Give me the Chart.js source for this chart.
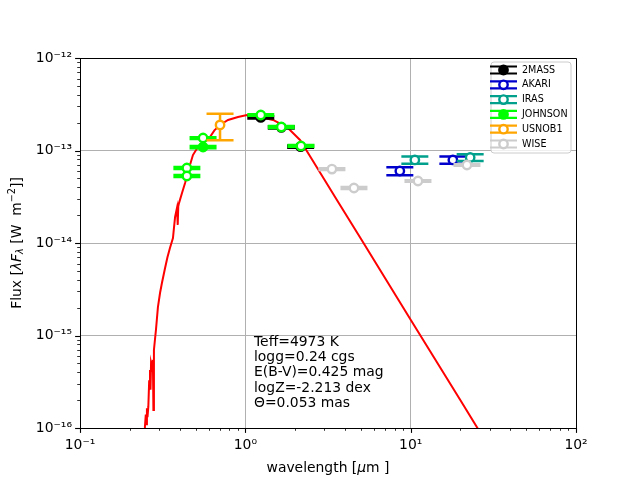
<!DOCTYPE html>
<html><head><meta charset="utf-8">
<script src="https://cdn.jsdelivr.net/npm/chart.js@4/dist/chart.umd.min.js"></script>
<style>html,body{margin:0;padding:0;background:#fff}</style>
</head><body>
<canvas id="c" width="640" height="480" style="width:640px;height:480px;display:block"></canvas>
<script>
// ---------- data ----------
const xMajorTicks = [0.1, 1, 10, 100];
const xTickLabels = ['10⁻¹', '10⁰', '10¹', '10²'];
const yMajorTicks = [1e-16, 1e-15, 1e-14, 1e-13, 1e-12];
const yTickLabels = ['10⁻¹⁶', '10⁻¹⁵', '10⁻¹⁴', '10⁻¹³', '10⁻¹²'];

const modelWave = [0.244,0.247,0.250,0.252,0.254,0.256,0.259,0.262,0.265,0.267,0.269,0.272,0.276,0.278,0.280,0.284,0.288,0.296,0.305,0.313,0.327,0.338,0.350,0.365,0.370,0.376,0.386,0.390,0.393,0.397,0.414,0.432,0.455,0.482,0.510,0.532,0.560,0.611,0.650,0.703,0.786,0.903,1.023,1.227,1.470,1.786,2.141,2.5,3.58,5.0,10.0,20.0,30.0];
const modelFlux = [0.9e-16,1.03e-16,1.4e-16,1.1e-16,1.64e-16,1.31e-16,1.7e-16,3.2e-16,4.24e-16,2.6e-16,5.05e-16,4.6e-16,5.44e-16,1.57e-16,6.97e-16,9.0e-16,1.15e-15,2.03e-15,2.9e-15,3.7e-15,5.37e-15,7.0e-15,8.83e-15,1.13e-14,1.45e-14,1.91e-14,2.39e-14,1.57e-14,2.5e-14,2.7e-14,3.47e-14,4.46e-14,6.3e-14,8.93e-14,1.05e-13,1.15e-13,1.25e-13,1.40e-13,1.65e-13,1.89e-13,2.14e-13,2.30e-13,2.42e-13,2.30e-13,2.14e-13,1.79e-13,1.30e-13,8.3e-14,2.92e-14,1.11e-14,1.48e-15,2.0e-16,6.1e-17];

const twomassWave = [1.24, 1.65, 2.16];
const twomassFlux = [2.28e-13, 1.78e-13, 1.10e-13];
const twomassErr  = [0.06e-13, 0.05e-13, 0.03e-13];

const akariWave = [8.6, 18.0];
const akariFlux = [6.0e-14, 7.9e-14];
const akariErr  = [0.6e-14, 0.7e-14];

const irasWave = [10.6, 22.9];
const irasFlux = [7.9e-14, 8.4e-14];
const irasErr  = [0.7e-14, 0.7e-14];

const johnsonWave = [0.443, 0.443, 0.555, 0.555, 1.24, 1.65, 2.17];
const johnsonFlux = [6.47e-14, 5.3e-14, 1.365e-13, 1.09e-13, 2.42e-13, 1.795e-13, 1.12e-13];
const johnsonErr  = [1.5e-15, 1.2e-15, 3e-15, 3e-15, 5e-15, 4e-15, 2.5e-15];
const johnsonFilled = [false, false, false, true, false, false, false];

const usnobWave = [0.703];
const usnobFlux = [1.89e-13];
const usnobErr  = [0.6e-13];

const wiseWave = [3.34, 4.54, 11.07, 21.9];
const wiseFlux = [6.3e-14, 3.93e-14, 4.68e-14, 6.97e-14];
const wiseErr  = [1.3e-15, 0.9e-15, 1.0e-15, 1.5e-15];

const annotationLines = ['Teff=4973 K', 'logg=0.24 cgs', 'E(B-V)=0.425 mag', 'logZ=-2.213 dex', 'Θ=0.053 mas'];
const legendNames = ['2MASS', 'AKARI', 'IRAS', 'JOHNSON', 'USNOB1', 'WISE'];

// ---------- helpers ----------
const FONT = "'DejaVu Sans', sans-serif";
function pts(w, f) { return w.map((v, i) => ({x: v, y: f[i]})); }
function buildLogTicks(majors) {
  const t = [];
  for (let i = 0; i < majors.length; i++) {
    t.push({value: majors[i], major: true});
    if (i < majors.length - 1) for (let k = 2; k <= 9; k++) t.push({value: majors[i] * k, major: false});
  }
  return t;
}
function labelFor(majors, labels, value) {
  const j = majors.findIndex(m => Math.abs(Math.log10(m) - Math.log10(value)) < 1e-6);
  return j >= 0 ? labels[j] : '';
}
const COL = {tm:'#000000', ak:'#0000cc', ir:'#00a08c', jo:'#00ff00', us:'#ffa500', wi:'#cccccc'};

function sdata(label, w, f, e, color, filled, order) {
  return {
    type: 'scatter', label, data: pts(w, f), errs: e, errColor: color, order,
    pointRadius: 4.2, pointHoverRadius: 4.2, pointBorderWidth: 2.4,
    pointBorderColor: color,
    pointBackgroundColor: filled.map(b => b ? color : '#ffffff'),
    showLine: false
  };
}

const CAP = 13.5;
function drawRich(ctx, segs, x, y) {
  let total = 0;
  segs.forEach(s => { ctx.font = (s.it ? 'italic ' : '') + s.sz + 'px ' + FONT; s.w = ctx.measureText(s.t).width; total += s.w; });
  let cx = x - total / 2;
  ctx.textAlign = 'left'; ctx.textBaseline = 'alphabetic'; ctx.fillStyle = '#000';
  segs.forEach(s => { ctx.font = (s.it ? 'italic ' : '') + s.sz + 'px ' + FONT; ctx.fillText(s.t, cx, y + (s.dy || 0)); cx += s.w; });
}

const sedPlugin = {
  id: 'sed',
  beforeDatasetDraw(chart, args) {
    const ds = chart.data.datasets[args.index];
    if (!ds.errs) return;
    const ctx = chart.ctx, xs = chart.scales.x, ys = chart.scales.y;
    ctx.save();
    ctx.strokeStyle = ds.errColor; ctx.lineWidth = 2.5; ctx.lineCap = 'butt';
    ds.data.forEach((p, i) => {
      const px = xs.getPixelForValue(p.x);
      const hi = ys.getPixelForValue(p.y + ds.errs[i]);
      const lo = ys.getPixelForValue(p.y - ds.errs[i]);
      ctx.beginPath();
      ctx.moveTo(px, hi); ctx.lineTo(px, lo);
      ctx.moveTo(px - CAP, hi); ctx.lineTo(px + CAP, hi);
      ctx.moveTo(px - CAP, lo); ctx.lineTo(px + CAP, lo);
      ctx.stroke();
    });
    ctx.restore();
  },
  afterDraw(chart) {
    const ctx = chart.ctx, a = chart.chartArea, xs = chart.scales.x, ys = chart.scales.y;
    ctx.save();
    // top & right spines
    ctx.strokeStyle = '#000'; ctx.lineWidth = 1;
    ctx.beginPath();
    ctx.moveTo(Math.round(a.left) + 0.5, Math.round(a.top) + 0.5);
    ctx.lineTo(Math.round(a.right) + 0.5, Math.round(a.top) + 0.5);
    ctx.lineTo(Math.round(a.right) + 0.5, Math.round(a.bottom) + 0.5);
    ctx.stroke();
    // tick marks
    xs.ticks.forEach(t => {
      const px = Math.round(xs.getPixelForValue(t.value)) + 0.5;
      ctx.lineWidth = t.major ? 1.1 : 0.8;
      ctx.beginPath(); ctx.moveTo(px, a.bottom); ctx.lineTo(px, a.bottom + (t.major ? 4.9 : 2.8)); ctx.stroke();
    });
    ys.ticks.forEach(t => {
      const py = Math.round(ys.getPixelForValue(t.value)) + 0.5;
      ctx.lineWidth = t.major ? 1.1 : 0.8;
      ctx.beginPath(); ctx.moveTo(a.left, py); ctx.lineTo(a.left - (t.major ? 4.9 : 2.8), py); ctx.stroke();
    });
    // axis titles
    drawRich(ctx, [{t:'wavelength [', sz:13.9}, {t:'μ', sz:13.9, it:true}, {t:'m ]', sz:13.9}], (a.left + a.right) / 2, 471.5);
    ctx.save();
    ctx.translate(20.5, (a.top + a.bottom) / 2);
    ctx.rotate(-Math.PI / 2);
    drawRich(ctx, [{t:'Flux [', sz:13.9}, {t:'λF', sz:13.9, it:true}, {t:'λ', sz:9.7, it:true, dy:2.5},
                   {t:' [W  m', sz:13.9}, {t:'−2', sz:9.7, dy:-5.5}, {t:']]', sz:13.9}], 0, 0);
    ctx.restore();
    // annotation
    ctx.font = '13.9px ' + FONT; ctx.fillStyle = '#000'; ctx.textAlign = 'left'; ctx.textBaseline = 'alphabetic';
    annotationLines.forEach((s, i) => ctx.fillText(s, 254, 345.5 + i * 15.4));
    // legend
    const lx = 491, ly = 62, lw = 80, lh = 91, r = 3;
    ctx.beginPath();
    ctx.moveTo(lx + r, ly); ctx.lineTo(lx + lw - r, ly); ctx.quadraticCurveTo(lx + lw, ly, lx + lw, ly + r);
    ctx.lineTo(lx + lw, ly + lh - r); ctx.quadraticCurveTo(lx + lw, ly + lh, lx + lw - r, ly + lh);
    ctx.lineTo(lx + r, ly + lh); ctx.quadraticCurveTo(lx, ly + lh, lx, ly + lh - r);
    ctx.lineTo(lx, ly + r); ctx.quadraticCurveTo(lx, ly, lx + r, ly); ctx.closePath();
    ctx.fillStyle = 'rgba(255,255,255,0.8)'; ctx.fill();
    ctx.strokeStyle = '#cccccc'; ctx.lineWidth = 1; ctx.stroke();
    const lcols = [COL.tm, COL.ak, COL.ir, COL.jo, COL.us, COL.wi];
    const lfill = [true, false, false, true, false, false];
    legendNames.forEach((n, i) => {
      const cy = 70 + i * 14.8, cx = 503.5;
      ctx.strokeStyle = lcols[i]; ctx.lineWidth = 2.2;
      ctx.beginPath();
      ctx.moveTo(cx - CAP, cy - 3.5); ctx.lineTo(cx + CAP, cy - 3.5);
      ctx.moveTo(cx - CAP, cy + 3.5); ctx.lineTo(cx + CAP, cy + 3.5);
      ctx.moveTo(cx, cy - 3.5); ctx.lineTo(cx, cy + 3.5);
      ctx.stroke();
      ctx.beginPath(); ctx.arc(cx, cy, 4.2, 0, Math.PI * 2);
      ctx.fillStyle = lfill[i] ? lcols[i] : '#ffffff'; ctx.fill();
      ctx.lineWidth = 2.4; ctx.stroke();
      ctx.fillStyle = '#000'; ctx.font = '9.6px ' + FONT; ctx.textAlign = 'left'; ctx.textBaseline = 'middle';
      ctx.fillText(n, 522, cy);
    });
    ctx.restore();
  }
};

// ---------- chart ----------
new Chart(document.getElementById('c'), {
  type: 'scatter',
  data: {
    datasets: [
      {type: 'line', label: 'model', data: pts(modelWave, modelFlux), borderColor: '#ff0000', borderWidth: 2,
       pointRadius: 0, tension: 0, fill: false, order: 10, clip: 0},
      sdata('2MASS', twomassWave, twomassFlux, twomassErr, COL.tm, twomassWave.map(() => true), 6),
      sdata('AKARI', akariWave, akariFlux, akariErr, COL.ak, akariWave.map(() => false), 5),
      sdata('IRAS', irasWave, irasFlux, irasErr, COL.ir, irasWave.map(() => false), 4),
      sdata('JOHNSON', johnsonWave, johnsonFlux, johnsonErr, COL.jo, johnsonFilled, 3),
      sdata('USNOB1', usnobWave, usnobFlux, usnobErr, COL.us, usnobWave.map(() => false), 2),
      sdata('WISE', wiseWave, wiseFlux, wiseErr, COL.wi, wiseWave.map(() => false), 1)
    ]
  },
  options: {
    responsive: false, animation: false, devicePixelRatio: 1,
    layout: {padding: {left: 0, top: 58, right: 64, bottom: 0}},
    plugins: {legend: {display: false}, tooltip: {enabled: false}},
    scales: {
      x: {
        type: 'logarithmic', position: 'bottom', min: 0.1, max: 100,
        afterBuildTicks: s => { s.ticks = buildLogTicks(xMajorTicks); },
        afterFit: s => { s.height = 52; },
        ticks: {autoSkip: false, maxRotation: 0, minRotation: 0, padding: 9, color: '#000',
                font: {family: FONT, size: 13.9},
                callback: (v) => labelFor(xMajorTicks, xTickLabels, v)},
        grid: {drawTicks: false, lineWidth: 1, color: c => (c.tick && c.tick.major) ? '#b0b0b0' : 'rgba(0,0,0,0)'},
        border: {display: true, color: '#000', width: 1}
      },
      y: {
        type: 'logarithmic', position: 'left', min: 1e-16, max: 1e-12,
        afterBuildTicks: s => { s.ticks = buildLogTicks(yMajorTicks); },
        afterFit: s => { s.width = 80; },
        ticks: {autoSkip: false, padding: 8, color: '#000',
                font: {family: FONT, size: 13.9},
                callback: (v) => labelFor(yMajorTicks, yTickLabels, v)},
        grid: {drawTicks: false, lineWidth: 1, color: c => (c.tick && c.tick.major) ? '#b0b0b0' : 'rgba(0,0,0,0)'},
        border: {display: true, color: '#000', width: 1}
      }
    }
  },
  plugins: [sedPlugin]
});
</script>
</body></html>
